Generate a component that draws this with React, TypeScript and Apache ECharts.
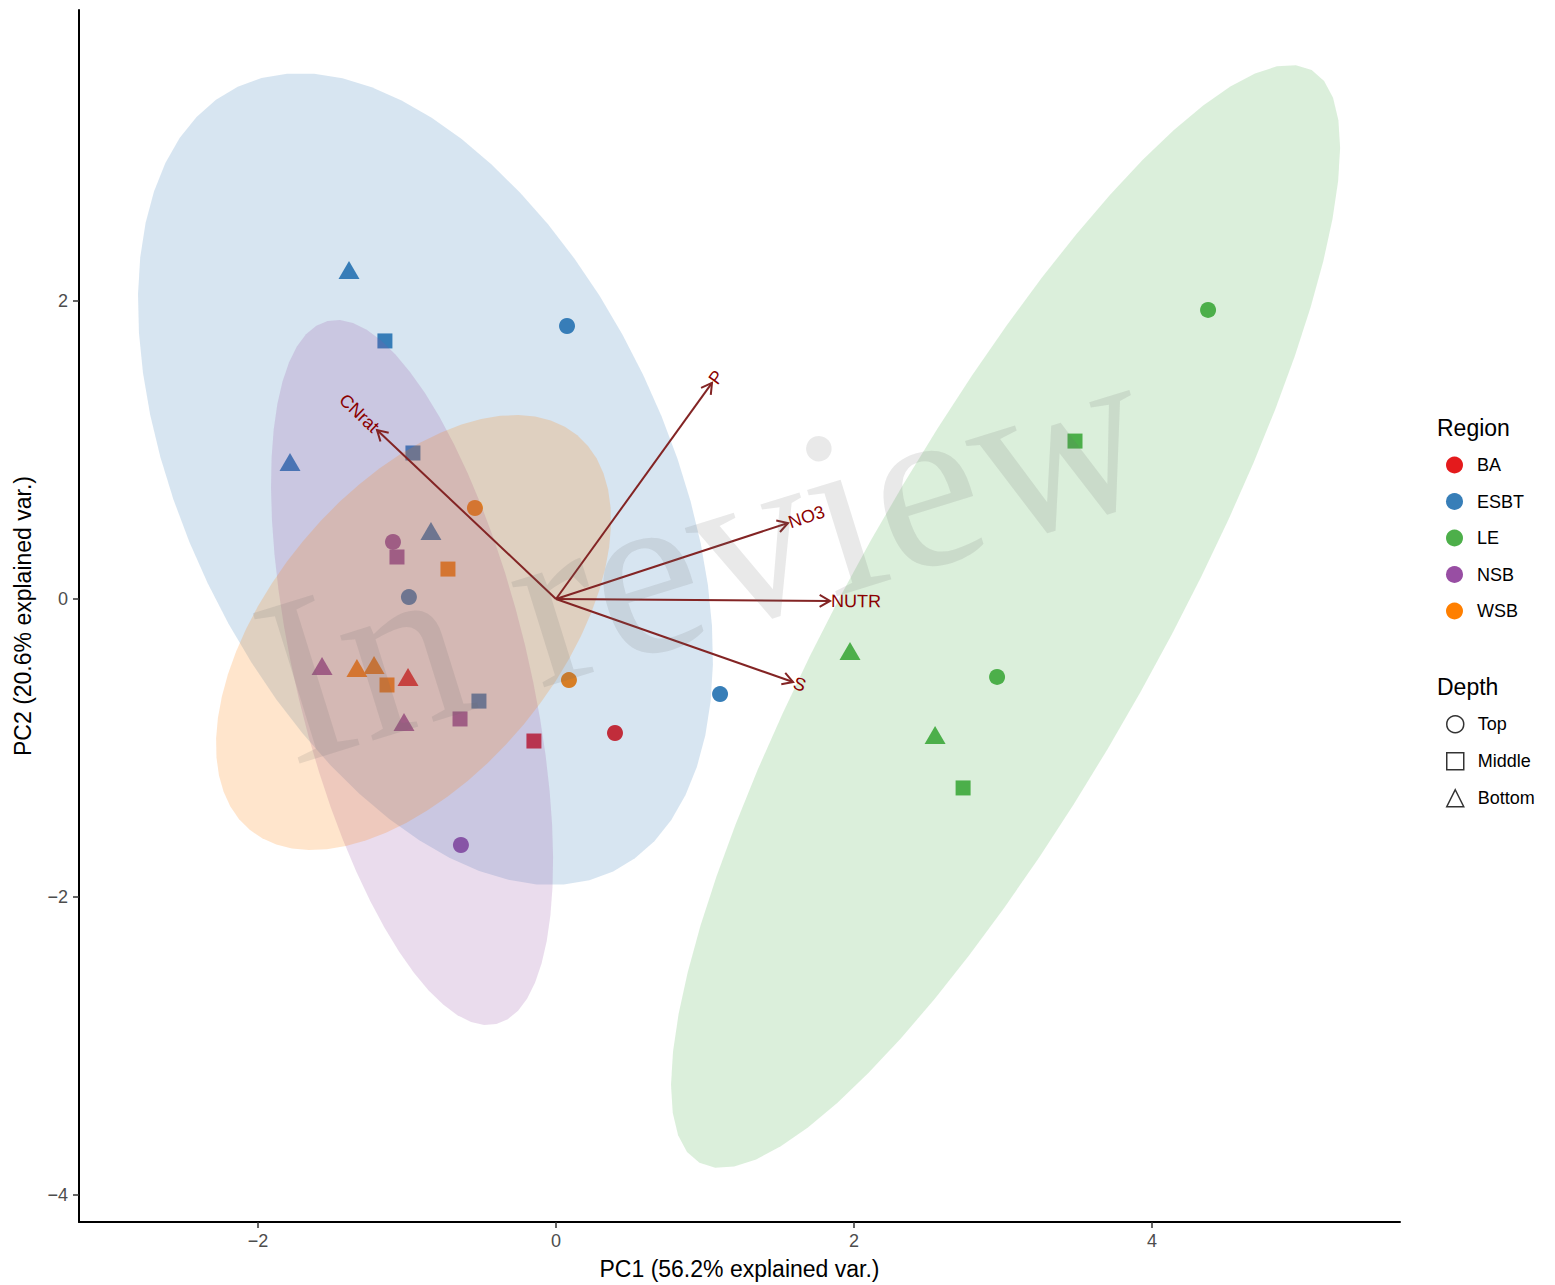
import React, { useEffect, useRef } from "react";
import * as echarts from "echarts";

// ---------- data ----------
const regionNames = ["BA", "ESBT", "LE", "NSB", "WSB"];
const regionColors = ["#E41A1C", "#377EB8", "#4DAF4A", "#984EA3", "#FF7F00"];
const depthNames = ["Top", "Middle", "Bottom"];
const depthSymbols = ["circle", "rect", "triangle"];

const sampleRegion = [
  "ESBT", "ESBT", "ESBT", "ESBT", "ESBT", "ESBT", "ESBT", "ESBT", "ESBT",
  "NSB", "NSB", "NSB", "NSB", "NSB", "NSB",
  "WSB", "WSB", "WSB", "WSB", "WSB", "WSB",
  "BA", "BA", "BA",
  "LE", "LE", "LE", "LE", "LE", "LE",
];
const sampleDepth = [
  "Bottom", "Middle", "Top", "Bottom", "Middle", "Bottom", "Top", "Middle", "Top",
  "Top", "Middle", "Bottom", "Middle", "Bottom", "Top",
  "Top", "Middle", "Bottom", "Bottom", "Middle", "Top",
  "Bottom", "Middle", "Top",
  "Top", "Middle", "Bottom", "Top", "Bottom", "Middle",
];
const samplePC1 = [
  -1.389, -1.148, 0.074, -1.785, -0.96, -0.839, -0.987, -0.517, 1.101,
  -1.094, -1.067, -1.57, -0.644, -1.02, -0.638,
  -0.544, -0.725, -1.336, -1.221, -1.134, 0.087,
  -0.993, -0.148, 0.396,
  4.376, 3.483, 1.973, 2.96, 2.544, 2.732,
];
const samplePC2 = [
  2.208, 1.732, 1.832, 0.919, 0.98, 0.456, 0.013, -0.685, -0.638,
  0.383, 0.282, -0.45, -0.805, -0.825, -1.651,
  0.611, 0.201, -0.463, -0.443, -0.577, -0.544,
  -0.523, -0.953, -0.899,
  1.94, 1.06, -0.349, -0.523, -0.913, -1.268,
];

// normal-data ellipses (centre, semi-axes, rotation in degrees)
const ellipseRegion = ["ESBT", "LE", "NSB", "WSB"];
const ellipseCenterX = [-0.876, 3.017, -0.966, -0.956];
const ellipseCenterY = [0.805, -0.117, -0.493, -0.225];
const ellipseMajor = [2.919, 4.203, 2.426, 1.721];
const ellipseMinor = [1.62, 1.038, 0.78, 0.963];
const ellipseAngle = [-64.43, 60.74, -76.5, 50.3];

// variable loadings
const varNames = ["CNrat", "P", "NO3", "NUTR", "S"];
const varPC1 = [-1.201, 1.047, 1.557, 1.839, 1.591];
const varPC2 = [1.134, 1.45, 0.51, -0.013, -0.557];

const xTicks = [-2, 0, 2, 4];
const yTicks = [-4, -2, 0, 2];

const FONT = "'Liberation Sans', Arial, Helvetica, sans-serif";

const fmt = (v: number) => (v < 0 ? "\u2212" + Math.abs(v) : String(v));

export default function App() {
  const ref = useRef<HTMLDivElement>(null);

  useEffect(() => {
    if (!ref.current) return;
    const chart = echarts.init(ref.current, null, { renderer: "svg" });

    const symbolSizeFor = (d: string) =>
      d === "Top" ? 16 : d === "Middle" ? 15 : [21, 18];

    const pointSeries = regionNames.map((r, ri) => ({
      type: "scatter",
      name: r,
      z: 1,
      silent: true,
      itemStyle: { color: regionColors[ri], opacity: 1 },
      data: sampleRegion
        .map((sr, i) =>
          sr === r
            ? {
                value: [samplePC1[i], samplePC2[i]],
                symbol: depthSymbols[depthNames.indexOf(sampleDepth[i])],
                symbolSize: symbolSizeFor(sampleDepth[i]),
              }
            : null
        )
        .filter((d) => d !== null),
    }));

    const depthSeries = depthNames.map((d, di) => ({
      type: "scatter",
      name: d,
      symbol: depthSymbols[di],
      itemStyle: { color: "transparent", borderColor: "#000", borderWidth: 1.5 },
      data: [],
    }));

    const ellipseSeries = {
      type: "custom",
      name: "ellipses",
      z: 2,
      silent: true,
      encode: { x: 0, y: 1 },
      data: ellipseRegion.map((r, i) => [
        ellipseCenterX[i],
        ellipseCenterY[i],
        ellipseMajor[i],
        ellipseMinor[i],
        ellipseAngle[i],
      ]),
      renderItem: (params: any, api: any) => {
        const cx = api.value(0);
        const cy = api.value(1);
        const a = api.value(2);
        const b = api.value(3);
        const ang = (api.value(4) * Math.PI) / 180;
        const pts: number[][] = [];
        const n = 60;
        for (let k = 0; k < n; k++) {
          const t = (2 * Math.PI * k) / n;
          const ex = a * Math.cos(t);
          const ey = b * Math.sin(t);
          pts.push(
            api.coord([
              cx + ex * Math.cos(ang) - ey * Math.sin(ang),
              cy + ex * Math.sin(ang) + ey * Math.cos(ang),
            ])
          );
        }
        const col = regionColors[regionNames.indexOf(ellipseRegion[params.dataIndex])];
        return {
          type: "polygon",
          shape: { points: pts },
          style: { fill: col, opacity: 0.2, stroke: "none" },
        };
      },
    };

    const arrowSeries = {
      type: "custom",
      name: "loadings",
      z: 3,
      silent: true,
      encode: { x: 0, y: 1 },
      data: varNames.map((n, i) => [varPC1[i], varPC2[i]]),
      renderItem: (params: any, api: any) => {
        const xv = api.value(0);
        const yv = api.value(1);
        const s = api.coord([0, 0]);
        const e = api.coord([xv, yv]);
        const ang = Math.atan2(e[1] - s[1], e[0] - s[0]);
        const L = 12;
        const sp = Math.PI / 6;
        const h1 = [e[0] - L * Math.cos(ang - sp), e[1] - L * Math.sin(ang - sp)];
        const h2 = [e[0] - L * Math.cos(ang + sp), e[1] - L * Math.sin(ang + sp)];
        const rot = Math.atan(yv / xv);
        const off = 1;
        return {
          type: "group",
          children: [
            {
              type: "line",
              shape: { x1: s[0], y1: s[1], x2: e[0], y2: e[1] },
              style: { stroke: "#832424", lineWidth: 2 },
            },
            {
              type: "polyline",
              shape: { points: [h1, e, h2] },
              style: { stroke: "#832424", lineWidth: 2, fill: "none" },
            },
            {
              type: "text",
              x: e[0] + off * Math.cos(ang),
              y: e[1] + off * Math.sin(ang),
              rotation: rot,
              style: {
                text: varNames[params.dataIndex],
                fill: "#8B0000",
                fontSize: 18,
                fontFamily: FONT,
                align: xv >= 0 ? "left" : "right",
                verticalAlign: "middle",
              },
            },
          ],
        };
      },
    };

    const option: any = {
      animation: false,
      backgroundColor: "#ffffff",
      textStyle: { fontFamily: FONT },
      grid: {
        left: 79,
        top: 10,
        width: 1321,
        height: 1212,
        containLabel: false,
        outerBoundsMode: "none",
      },
      xAxis: {
        type: "value",
        min: -3.201,
        max: 5.664,
        splitLine: { show: false },
        axisLine: { show: true, onZero: false, lineStyle: { color: "#000", width: 2 } },
        axisTick: {
          show: true,
          customValues: xTicks,
          length: 6,
          lineStyle: { color: "#333", width: 1.5 },
        },
        axisLabel: {
          customValues: xTicks,
          formatter: fmt,
          fontSize: 18,
          color: "#4D4D4D",
          margin: 10,
          fontFamily: FONT,
        },
        name: "PC1 (56.2% explained var.)",
        nameLocation: "middle",
        nameGap: 35,
        nameTextStyle: { fontSize: 23, color: "#000", fontFamily: FONT },
      },
      yAxis: {
        type: "value",
        min: -4.181,
        max: 3.953,
        splitLine: { show: false },
        axisLine: { show: true, onZero: false, lineStyle: { color: "#000", width: 2 } },
        axisTick: {
          show: true,
          customValues: yTicks,
          length: 6,
          lineStyle: { color: "#333", width: 1.5 },
        },
        axisLabel: {
          customValues: yTicks,
          formatter: fmt,
          fontSize: 18,
          color: "#4D4D4D",
          margin: 11,
          fontFamily: FONT,
        },
        name: "PC2 (20.6% explained var.)",
        nameLocation: "middle",
        nameRotate: 90,
        nameGap: 45,
        nameTextStyle: { fontSize: 23, color: "#000", fontFamily: FONT },
      },
      legend: [
        {
          orient: "vertical",
          left: 1441,
          top: 451,
          padding: 5,
          itemWidth: 17,
          itemHeight: 17,
          itemGap: 18.5,
          selectedMode: false,
          data: regionNames.map((r) => ({ name: r, icon: "circle" })),
          textStyle: {
            fontSize: 18,
            color: "#000",
            fontFamily: FONT,
            padding: [0, 0, 0, 9],
          },
        },
        {
          orient: "vertical",
          left: 1441,
          top: 710,
          padding: 5,
          itemWidth: 17,
          itemHeight: 17,
          itemGap: 18.5,
          selectedMode: false,
          data: depthNames.map((d, di) => ({
            name: d,
            icon: depthSymbols[di],
            itemStyle: { color: "transparent", borderColor: "#000", borderWidth: 1.5 },
          })),
          textStyle: {
            fontSize: 18,
            color: "#000",
            fontFamily: FONT,
            padding: [0, 0, 0, 9],
          },
        },
      ],
      graphic: [
        {
          type: "text",
          x: 1437,
          y: 428,
          style: {
            text: "Region",
            fontSize: 23,
            fontFamily: FONT,
            fill: "#000",
            verticalAlign: "middle",
          },
        },
        {
          type: "text",
          x: 1437,
          y: 687,
          style: {
            text: "Depth",
            fontSize: 23,
            fontFamily: FONT,
            fill: "#000",
            verticalAlign: "middle",
          },
        },
        {
          type: "text",
          x: 703,
          y: 553,
          rotation: (17.3 * Math.PI) / 180,
          z: 100,
          silent: true,
          style: {
            text: "In review",
            fontSize: 240,
            fontFamily: "'Liberation Serif', 'DejaVu Serif', serif",
            fill: "rgba(110,110,110,0.15)",
            align: "center",
            verticalAlign: "middle",
          },
        },
      ],
      series: [...pointSeries, ...depthSeries, ellipseSeries, arrowSeries],
    };

    chart.setOption(option);
    return () => chart.dispose();
  }, []);

  return (
    <div
      ref={ref}
      style={{ position: "absolute", left: 0, top: 0, width: 1555, height: 1285 }}
    />
  );
}
